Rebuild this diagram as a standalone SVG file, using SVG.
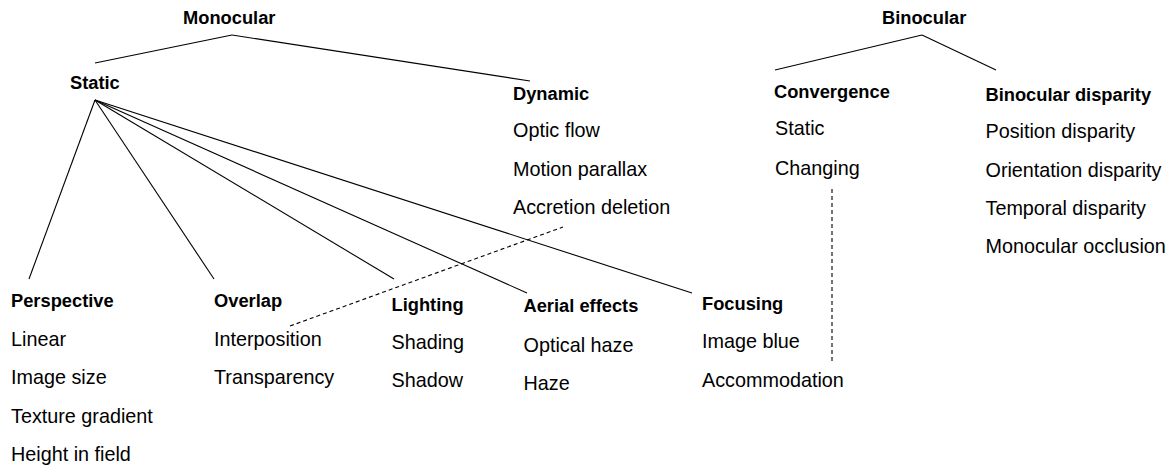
<svg xmlns="http://www.w3.org/2000/svg" width="1174" height="469" viewBox="0 0 1174 469">
<style>
text{font-family:"Liberation Sans",Arial,sans-serif;fill:#000}
.h{font-weight:bold;font-size:18.3px}
.t{font-size:19.8px}
.c line{stroke:#000;stroke-width:1.1;fill:none}
.c .d{stroke-dasharray:4 3}
</style>
<rect width="1174" height="469" fill="#fff"/>
<g class="c" id="connectors">
<line x1="232" y1="35" x2="95" y2="63"/>
<line x1="232" y1="35" x2="530" y2="81"/>
<line x1="95" y1="100" x2="29" y2="279"/>
<line x1="95" y1="100" x2="214" y2="279"/>
<line x1="95" y1="100" x2="394" y2="279"/>
<line x1="95" y1="100" x2="527" y2="293"/>
<line x1="95" y1="100" x2="692" y2="293"/>
<line x1="922" y1="35" x2="775" y2="70"/>
<line x1="922" y1="35" x2="996" y2="70"/>
<line class="d" x1="290" y1="326" x2="563" y2="227"/>
<line class="d" x1="832" y1="189" x2="832" y2="362"/>
</g>
<g id="monocular"><text class="h" x="183" y="24">Monocular</text></g>
<g id="static"><text class="h" x="70" y="89">Static</text></g>
<g id="dynamic">
<text class="h" x="513" y="100">Dynamic</text>
<text class="t" x="513" y="137">Optic flow</text>
<text class="t" x="513" y="176">Motion parallax</text>
<text class="t" x="513" y="214">Accretion deletion</text>
</g>
<g id="binocular"><text class="h" x="882" y="24">Binocular</text></g>
<g id="convergence">
<text class="h" x="774" y="97.5">Convergence</text>
<text class="t" x="775" y="135">Static</text>
<text class="t" x="775" y="175">Changing</text>
</g>
<g id="binocular-disparity">
<text class="h" x="985.5" y="100.5">Binocular disparity</text>
<text class="t" x="985.5" y="137.5">Position disparity</text>
<text class="t" x="985.5" y="176.5">Orientation disparity</text>
<text class="t" x="985.5" y="215">Temporal disparity</text>
<text class="t" x="985.5" y="253">Monocular occlusion</text>
</g>
<g id="perspective">
<text class="h" x="11" y="307">Perspective</text>
<text class="t" x="11" y="345.5">Linear</text>
<text class="t" x="11" y="384">Image size</text>
<text class="t" x="11" y="422.5">Texture gradient</text>
<text class="t" x="11" y="461">Height in field</text>
</g>
<g id="overlap">
<text class="h" x="214" y="307">Overlap</text>
<text class="t" x="214" y="345.5">Interposition</text>
<text class="t" x="214" y="384">Transparency</text>
</g>
<g id="lighting">
<text class="h" x="391.5" y="310.5">Lighting</text>
<text class="t" x="391.5" y="348.5">Shading</text>
<text class="t" x="391.5" y="386.5">Shadow</text>
</g>
<g id="aerial-effects">
<text class="h" x="523.5" y="312">Aerial effects</text>
<text class="t" x="523.5" y="351.5">Optical haze</text>
<text class="t" x="523.5" y="390">Haze</text>
</g>
<g id="focusing">
<text class="h" x="702" y="309.5">Focusing</text>
<text class="t" x="702" y="347.5">Image blue</text>
<text class="t" x="702" y="386.5">Accommodation</text>
</g>
</svg>
